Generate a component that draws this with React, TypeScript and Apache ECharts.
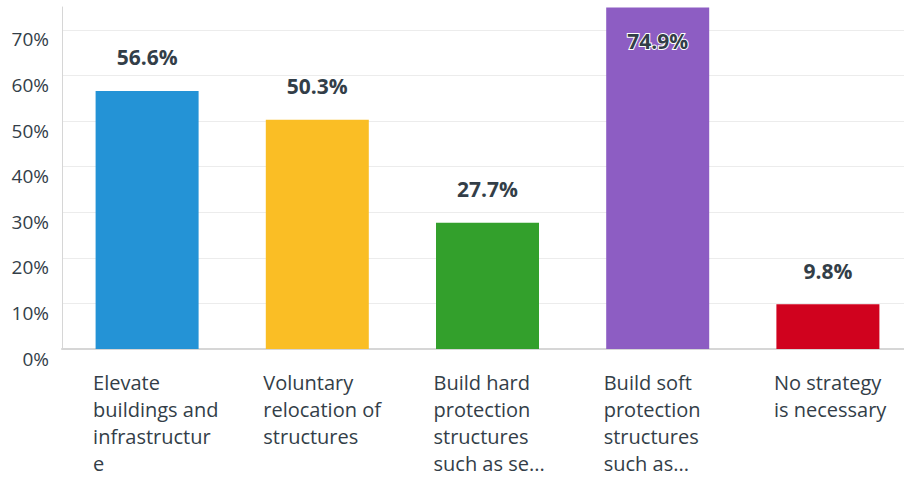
import React, { useEffect, useRef } from "react";
import * as echarts from "echarts";

const categories = [
  "Elevate\nbuildings and\ninfrastructur\ne",
  "Voluntary\nrelocation of\nstructures",
  "Build hard\nprotection\nstructures\nsuch as se...",
  "Build soft\nprotection\nstructures\nsuch as...",
  "No strategy\nis necessary",
];
const values = [56.6, 50.3, 27.7, 74.9, 9.8];
const colors = ["#2493d6", "#fabe25", "#33a02c", "#8d5dc3", "#d0021e"];
const yTicks = [0, 10, 20, 30, 40, 50, 60, 70];

const FONT = "'Open Sans', sans-serif";
const TEXT = "#333e48";

export default function App() {
  const ref = useRef<HTMLDivElement>(null);
  useEffect(() => {
    if (!ref.current) return;
    const chart = echarts.init(ref.current, null, { renderer: "svg" });
    chart.setOption({
      animation: false,
      grid: { left: 62, top: 7, bottom: 129, right: 7, containLabel: false },
      xAxis: {
        type: "category",
        data: categories,
        axisLine: { show: true, lineStyle: { color: "#d6d6d6", width: 2 } },
        axisTick: { show: false },
        axisLabel: {
          interval: 0,
          margin: 20,
          align: "center",
          verticalAlign: "top",
          formatter: (v: string) =>
            v
              .split("\n")
              .map((l) => "{a|" + l + "}")
              .join("\n"),
          rich: {
            a: {
              width: 108,
              align: "left",
              fontSize: 20,
              lineHeight: 27,
              fontFamily: FONT,
              color: TEXT,
            },
          },
        },
      },
      yAxis: {
        type: "value",
        min: 0,
        max: 75,
        interval: 10,
        axisLine: { show: true, lineStyle: { color: "#d6d6d6", width: 1 } },
        axisTick: { show: false },
        splitLine: { show: true, showMaxLine: false, lineStyle: { color: "#ececec", width: 1 } },
        axisLabel: {
          margin: 13,
          fontSize: 19,
          fontFamily: FONT,
          color: TEXT,
          verticalAlign: "top",
          showMaxLabel: false,
          formatter: (v: number) => (yTicks.includes(v) ? v + "%" : ""),
        },
      },
      series: [
        {
          type: "bar",
          barWidth: 103,
          data: values.map((v, i) => ({
            value: v,
            itemStyle: { color: colors[i] },
            label:
              v > 70
                ? {
                    position: "insideTop",
                    distance: 23,
                    textBorderColor: "#ffffff",
                    textBorderWidth: 2,
                  }
                : undefined,
          })),
          label: {
            show: true,
            position: "top",
            distance: 23,
            fontSize: 21,
            fontWeight: "bold",
            fontFamily: FONT,
            color: TEXT,
            formatter: (p: any) => p.value.toFixed(1) + "%",
          },
        },
      ],
    });
    return () => chart.dispose();
  }, []);
  return (
    <div style={{ width: 904, height: 478, position: "absolute", left: 0, top: 0, overflow: "hidden" }}>
      <div ref={ref} style={{ width: 920, height: 478, position: "absolute", left: 0, top: 0 }} />
    </div>
  );
}
